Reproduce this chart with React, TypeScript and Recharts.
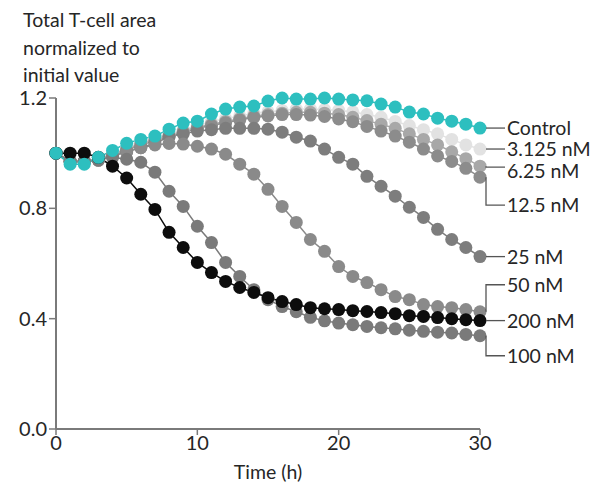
import React from 'react';
import { LineChart, Line, XAxis, YAxis, Label } from 'recharts';

const hours = [0, 1, 2, 3, 4, 5, 6, 7, 8, 9, 10, 11, 12, 13, 14, 15, 16, 17, 18, 19, 20, 21, 22, 23, 24, 25, 26, 27, 28, 29, 30];

const control = [1.0, 0.96, 0.96, 0.985, 1.01, 1.036, 1.05, 1.062, 1.087, 1.109, 1.116, 1.142, 1.16, 1.167, 1.171, 1.189, 1.2, 1.196, 1.196, 1.2, 1.196, 1.193, 1.19, 1.178, 1.167, 1.149, 1.142, 1.127, 1.116, 1.105, 1.091];
const nM3125 = [1.0, 0.97, 0.97, 0.98, 1.0, 1.02, 1.04, 1.055, 1.07, 1.085, 1.1, 1.115, 1.125, 1.135, 1.145, 1.15, 1.155, 1.16, 1.16, 1.158, 1.155, 1.15, 1.14, 1.13, 1.115, 1.1, 1.085, 1.07, 1.05, 1.03, 1.015];
const nM625 = [1.0, 0.97, 0.97, 0.98, 0.995, 1.015, 1.035, 1.05, 1.065, 1.08, 1.095, 1.105, 1.115, 1.125, 1.135, 1.14, 1.145, 1.148, 1.148, 1.145, 1.14, 1.13, 1.118, 1.105, 1.09, 1.07, 1.05, 1.03, 1.005, 0.98, 0.953];
const nM125 = [1.0, 0.97, 0.97, 0.975, 0.99, 1.01, 1.03, 1.045, 1.06, 1.075, 1.09, 1.1, 1.11, 1.12, 1.13, 1.135, 1.14, 1.14, 1.138, 1.133, 1.124, 1.114, 1.097, 1.08, 1.062, 1.04, 1.015, 0.99, 0.97, 0.945, 0.913];
const nM25 = [1.0, 0.97, 0.97, 0.975, 0.99, 1.005, 1.02, 1.035, 1.06, 1.07, 1.08, 1.085, 1.09, 1.09, 1.09, 1.087, 1.076, 1.058, 1.044, 1.015, 0.985, 0.96, 0.916, 0.88, 0.844, 0.804, 0.767, 0.724, 0.687, 0.658, 0.625];
const nM50 = [1.0, 0.97, 0.97, 0.975, 0.99, 1.005, 1.02, 1.03, 1.035, 1.033, 1.025, 1.015, 0.996, 0.96, 0.924, 0.869, 0.807, 0.749, 0.687, 0.644, 0.589, 0.553, 0.531, 0.505, 0.48, 0.469, 0.451, 0.444, 0.44, 0.433, 0.425];
const nM100 = [1.0, 0.97, 0.97, 0.975, 0.985, 0.978, 0.967, 0.931, 0.862, 0.807, 0.735, 0.676, 0.604, 0.553, 0.505, 0.469, 0.444, 0.425, 0.405, 0.392, 0.384, 0.378, 0.372, 0.367, 0.363, 0.358, 0.354, 0.351, 0.348, 0.343, 0.338];
const nM200 = [1.0, 1.0, 1.0, 0.985, 0.953, 0.91, 0.851, 0.796, 0.713, 0.658, 0.604, 0.567, 0.535, 0.513, 0.495, 0.476, 0.462, 0.451, 0.44, 0.436, 0.433, 0.429, 0.426, 0.422, 0.418, 0.411, 0.408, 0.404, 0.4, 0.396, 0.393];

const xTicks = [0, 10, 20, 30];
const yTicks = [0, 0.4, 0.8, 1.2];
const yTitle = ['Total T-cell area', 'normalized to', 'initial value'];
const xTitle = 'Time (h)';

const FONT = 'Lato, "Noto Sans", sans-serif';
const FS = 19.5;
const TEXT = '#262626';

type S = { key: string; name: string; values: number[]; color: string; lineDy: number; textDy: number };

const series: S[] = [
  { key: 'n3125', name: '3.125 nM', values: nM3125, color: '#e2e2e2', lineDy: 0, textDy: 0 },
  { key: 'n625', name: '6.25 nM', values: nM625, color: '#a8a8a8', lineDy: 1, textDy: 5 },
  { key: 'n125', name: '12.5 nM', values: nM125, color: '#8c8c8c', lineDy: 28, textDy: 28 },
  { key: 'n25', name: '25 nM', values: nM25, color: '#7d7d7d', lineDy: 0, textDy: 0 },
  { key: 'n50', name: '50 nM', values: nM50, color: '#8a8a8a', lineDy: -27, textDy: -27 },
  { key: 'n100', name: '100 nM', values: nM100, color: '#7a7a7a', lineDy: 20, textDy: 20 },
  { key: 'n200', name: '200 nM', values: nM200, color: '#0d0d0d', lineDy: 0, textDy: 0 },
  { key: 'control', name: 'Control', values: control, color: '#2dbfbf', lineDy: 0, textDy: 0 },
];

const data = hours.map((h, i) => {
  const row: Record<string, number> = { h };
  series.forEach((s) => {
    row[s.key] = s.values[i];
  });
  return row;
});

const makeLabel = (s: S) => (p: any) => {
  if (p.index !== hours.length - 1) return null;
  const x = p.viewBox?.x ?? p.x;
  const y = p.viewBox?.y ?? p.y;
  const ly = y + s.lineDy;
  return (
    <g key={s.key + '-lbl'}>
      <path d={`M${x + 6},${y} V${ly} H${x + 25}`} fill="none" stroke="#555" strokeWidth={1.3} />
      <text x={x + 27} y={y + s.textDy} dy="0.355em" fontSize={FS} fontFamily={FONT} fill={TEXT}>
        {s.name}
      </text>
    </g>
  );
};

export default function App() {
  return (
    <div style={{ position: 'absolute', left: 0, top: 0, width: 606, height: 489, background: '#fff' }}>
      <LineChart width={606} height={489} data={data} margin={{ top: 98, right: 126, bottom: 0, left: 0 }}>
        <XAxis
          dataKey="h"
          type="number"
          domain={[0, 30]}
          ticks={xTicks}
          height={60}
          axisLine={{ stroke: '#7a7a7a', strokeWidth: 2 }}
          tickLine={{ stroke: '#7a7a7a', strokeWidth: 1.5 }}
          tickSize={6}
          tickMargin={1}
          tick={{ fontSize: 20, fontFamily: FONT, fill: TEXT }}
        >
          <Label value={xTitle} position="insideBottom" offset={10} style={{ fontSize: FS, fontFamily: FONT, fill: TEXT }} />
        </XAxis>
        <YAxis
          type="number"
          domain={[0, 1.2]}
          ticks={yTicks}
          width={56}
          tickFormatter={(v: number) => v.toFixed(1)}
          axisLine={{ stroke: '#7a7a7a', strokeWidth: 2 }}
          tickLine={{ stroke: '#7a7a7a', strokeWidth: 1.5 }}
          tickSize={7}
          tickMargin={2}
          tick={{ fontSize: 20, fontFamily: FONT, fill: TEXT }}
        >
          <Label
            content={() => (
              <text x={23} y={26} fontSize={FS} fontFamily={FONT} fill={TEXT}>
                {yTitle.map((t, i) => (
                  <tspan key={i} x={23} y={27 + i * 27.5}>
                    {t}
                  </tspan>
                ))}
              </text>
            )}
          />
        </YAxis>
        {series.map((s) => (
          <Line
            key={s.key}
            dataKey={s.key}
            type="linear"
            stroke={s.color}
            strokeWidth={1.5}
            dot={{ r: 6.5, fill: s.color, stroke: 'none' }}
            activeDot={false}
            isAnimationActive={false}
            label={makeLabel(s)}
          />
        ))}
      </LineChart>
    </div>
  );
}
